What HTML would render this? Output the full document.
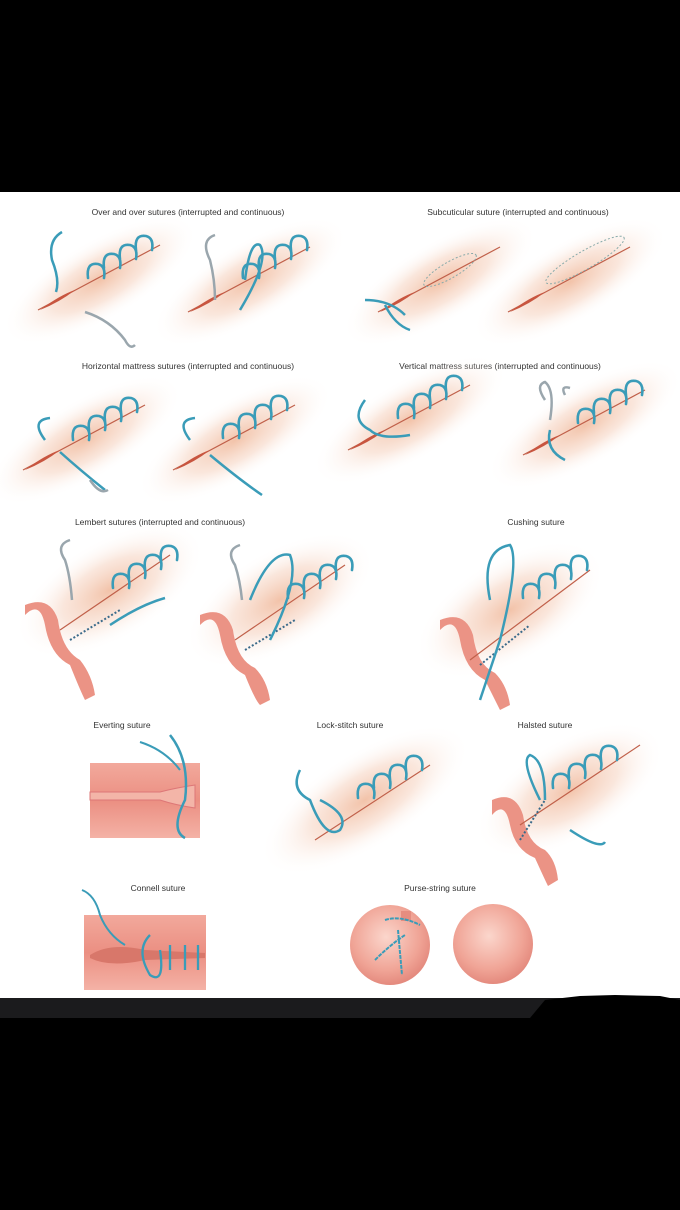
<!DOCTYPE html>
<html><head><meta charset="utf-8"><style>
html,body{margin:0;padding:0;background:#000;}
svg{display:block}
text{font-family:"Liberation Sans",sans-serif;font-size:8.5px;fill:#333;}
</style></head><body>
<svg width="680" height="1210" viewBox="0 0 680 1210" xmlns="http://www.w3.org/2000/svg">
<defs>
<radialGradient id="glow" cx="50%" cy="50%" r="50%">
<stop offset="0" stop-color="#f0b89a" stop-opacity="0.85"/>
<stop offset="0.5" stop-color="#f6d2bf" stop-opacity="0.55"/>
<stop offset="1" stop-color="#ffffff" stop-opacity="0"/>
</radialGradient>
<linearGradient id="tis" x1="0" y1="0" x2="0" y2="1">
<stop offset="0" stop-color="#f2a99c"/><stop offset="0.5" stop-color="#eb8f82"/><stop offset="1" stop-color="#f4b2a6"/>
</linearGradient>
<radialGradient id="ball" cx="45%" cy="40%" r="60%">
<stop offset="0" stop-color="#fbd6cc"/><stop offset="0.7" stop-color="#f0a496"/><stop offset="1" stop-color="#e48a7e"/>
</radialGradient>
<g id="wound">
<ellipse cx="0" cy="0" rx="110" ry="40" fill="url(#glow)" transform="rotate(-30)"/>
<path d="M-62 30 L60 -35" stroke="#c0604a" stroke-width="1.2"/>
<path d="M-60 30 Q-40 15 -25 10 Q-40 22 -60 30Z" fill="#c8553f"/>
</g>
<g id="loops" fill="none" stroke="#3a9cb8" stroke-width="2.6" stroke-linecap="round">
<path d="M-22 8 q-2 -16 10 -14 q8 2 6 14"/>
<path d="M-6 -2 q-2 -16 10 -14 q8 2 6 14"/>
<path d="M10 -11 q-2 -16 10 -14 q8 2 6 14"/>
<path d="M26 -20 q-2 -16 10 -14 q8 2 6 14"/>
</g>
</defs>
<rect x="0" y="0" width="680" height="1210" fill="#000"/>
<rect x="0" y="192" width="680" height="806" fill="#fff"/>
<rect x="0" y="998" width="680" height="20" fill="#1b1b1d"/>
<path d="M530 1018 L545 1000 L580 996 L615 995 L660 996 L680 1000 L680 1018Z" fill="#000"/>

<text x="188" y="215" text-anchor="middle">Over and over sutures (interrupted and continuous)</text>
<text x="518" y="215" text-anchor="middle">Subcuticular suture (interrupted and continuous)</text>
<text x="188" y="369" text-anchor="middle">Horizontal mattress sutures (interrupted and continuous)</text>
<text x="500" y="369" text-anchor="middle">Vertical mattress sutures (interrupted and continuous)</text>
<text x="160" y="525" text-anchor="middle">Lembert sutures (interrupted and continuous)</text>
<text x="536" y="525" text-anchor="middle">Cushing suture</text>
<text x="122" y="728" text-anchor="middle">Everting suture</text>
<text x="350" y="728" text-anchor="middle">Lock-stitch suture</text>
<text x="545" y="728" text-anchor="middle">Halsted suture</text>
<text x="158" y="891" text-anchor="middle">Connell suture</text>
<text x="440" y="891" text-anchor="middle">Purse-string suture</text>

<use href="#wound" x="100" y="280"/><use href="#loops" x="110" y="270"/>
<path d="M62 232 Q48 240 52 260 Q60 280 56 292" fill="none" stroke="#3a9cb8" stroke-width="2.5"/>
<path d="M85 312 Q110 320 125 340 Q130 350 135 345" fill="none" stroke="#9aa6ad" stroke-width="2.5"/>
<use href="#wound" x="250" y="282"/><use href="#loops" x="265" y="270"/>
<path d="M215 235 Q200 240 210 260 Q215 280 215 300" fill="none" stroke="#9aa6ad" stroke-width="2.5"/>
<path d="M240 310 Q270 260 260 245 Q250 240 245 280" fill="none" stroke="#3a9cb8" stroke-width="2.5"/>
<use href="#wound" x="440" y="282"/>
<ellipse cx="450" cy="270" rx="30" ry="8" transform="rotate(-30 450 270)" fill="none" stroke="#8aa" stroke-dasharray="2 2"/>
<path d="M365 300 Q390 300 405 315 M385 305 Q395 325 410 330" fill="none" stroke="#3a9cb8" stroke-width="2.5"/>
<use href="#wound" x="570" y="282"/>
<ellipse cx="585" cy="260" rx="45" ry="9" transform="rotate(-30 585 260)" fill="none" stroke="#8aa" stroke-dasharray="2 2"/>

<use href="#wound" x="85" y="440"/><use href="#loops" x="95" y="432"/>
<path d="M50 418 Q30 420 45 440 M60 452 Q80 470 105 490" fill="none" stroke="#3a9cb8" stroke-width="2.5"/>
<path d="M90 480 Q100 495 108 490" fill="none" stroke="#9aa6ad" stroke-width="2.5"/>
<use href="#wound" x="235" y="440"/><use href="#loops" x="245" y="430"/>
<path d="M195 418 Q175 420 190 440 M210 455 Q240 480 262 495" fill="none" stroke="#3a9cb8" stroke-width="2.5"/>
<use href="#wound" x="410" y="420"/><use href="#loops" x="420" y="410"/>
<path d="M365 400 Q350 420 370 430 Q380 440 410 435" fill="none" stroke="#3a9cb8" stroke-width="2.5"/>
<use href="#wound" x="585" y="425"/><use href="#loops" x="600" y="415"/>
<path d="M545 400 Q535 385 545 382 Q555 390 550 420 M565 395 Q560 385 570 388" fill="none" stroke="#9aa6ad" stroke-width="2.5"/>
<path d="M550 430 Q545 450 565 460" fill="none" stroke="#3a9cb8" stroke-width="2.5"/>

<g>
<ellipse cx="110" cy="590" rx="105" ry="50" fill="url(#glow)" transform="rotate(-30 110 590)"/>
<path d="M25 615 Q40 600 45 625 Q50 655 70 665 Q80 690 85 700 L95 695 Q92 675 80 660 Q62 650 58 620 Q50 595 25 605Z" fill="#eb9385"/>
<path d="M60 630 L170 555" stroke="#c0604a" stroke-width="1.2"/>
<path d="M70 640 L120 610" stroke="#3a6a8a" stroke-width="2" stroke-dasharray="2 2"/>
<use href="#loops" x="135" y="580"/>
<path d="M70 540 Q55 545 65 560 Q70 575 72 600" fill="none" stroke="#9aa6ad" stroke-width="2.5"/>
<path d="M110 625 Q140 605 165 598" fill="none" stroke="#3a9cb8" stroke-width="2.5"/>
</g>
<g>
<ellipse cx="280" cy="600" rx="105" ry="50" fill="url(#glow)" transform="rotate(-30 280 600)"/>
<path d="M200 625 Q215 610 220 635 Q225 665 245 675 Q255 700 260 705 L270 700 Q267 680 255 668 Q237 660 233 630 Q225 605 200 615Z" fill="#eb9385"/>
<path d="M235 640 L345 565" stroke="#c0604a" stroke-width="1.2"/>
<path d="M245 650 L295 620" stroke="#3a6a8a" stroke-width="2" stroke-dasharray="2 2"/>
<use href="#loops" x="310" y="590"/>
<path d="M240 545 Q225 550 235 565 Q240 580 242 600" fill="none" stroke="#9aa6ad" stroke-width="2.5"/>
<path d="M250 600 Q270 550 290 555 Q300 580 270 640" fill="none" stroke="#3a9cb8" stroke-width="2.5"/>
</g>
<g>
<ellipse cx="510" cy="610" rx="105" ry="52" fill="url(#glow)" transform="rotate(-30 510 610)"/>
<path d="M440 630 Q455 615 460 640 Q465 670 485 680 Q495 700 500 710 L510 705 Q507 685 495 673 Q477 665 473 635 Q465 610 440 620Z" fill="#eb9385"/>
<path d="M470 660 L590 570" stroke="#c0604a" stroke-width="1.2"/>
<path d="M480 665 L530 625" stroke="#3a6a8a" stroke-width="2" stroke-dasharray="2 2"/>
<use href="#loops" x="545" y="590"/>
<path d="M490 600 Q480 550 510 545 Q520 560 500 640 Q490 670 480 700" fill="none" stroke="#3a9cb8" stroke-width="2.5"/>
</g>

<rect x="90" y="763" width="110" height="75" fill="url(#tis)"/>
<path d="M90 792 L160 792 Q175 788 195 785 L195 808 Q175 805 160 800 L90 800Z" fill="#f3b5a8" stroke="#d77"/>
<path d="M170 735 Q190 760 185 800 Q170 830 185 838" fill="none" stroke="#3a9cb8" stroke-width="2.5"/>
<path d="M140 742 Q165 750 180 770" fill="none" stroke="#3a9cb8" stroke-width="2"/>
<ellipse cx="365" cy="800" rx="120" ry="48" fill="url(#glow)" transform="rotate(-32 365 800)"/>
<path d="M315 840 L430 765" stroke="#c0604a" stroke-width="1.2"/>
<use href="#loops" x="380" y="790"/>
<path d="M300 770 Q290 790 310 800 Q325 840 340 830 Q350 815 320 800" fill="none" stroke="#3a9cb8" stroke-width="2.5"/>
<ellipse cx="570" cy="790" rx="105" ry="50" fill="url(#glow)" transform="rotate(-30 570 790)"/>
<path d="M492 815 Q505 800 510 825 Q515 850 535 858 Q545 880 548 886 L558 880 Q556 860 545 850 Q527 843 523 815 Q515 790 492 800Z" fill="#eb9385"/>
<path d="M520 825 L640 745" stroke="#c0604a" stroke-width="1.2"/>
<path d="M520 840 L545 800" stroke="#3a6a8a" stroke-width="2" stroke-dasharray="2 2"/>
<use href="#loops" x="575" y="780"/>
<path d="M540 800 Q520 760 530 755 Q545 760 545 800 M570 830 Q600 850 605 842" fill="none" stroke="#3a9cb8" stroke-width="2.5"/>
<rect x="84" y="915" width="122" height="75" fill="url(#tis)"/>
<path d="M90 955 Q110 942 145 950 L205 953 L205 958 L145 960 Q110 968 90 958Z" fill="#d8776a"/>
<path d="M82 890 Q95 895 100 915 Q108 935 125 945" fill="none" stroke="#3a9cb8" stroke-width="2"/>
<path d="M150 935 Q135 950 150 975 Q165 985 160 950 M170 945 L170 970 M185 945 L185 970 M198 945 L198 970" fill="none" stroke="#3a9cb8" stroke-width="2.3"/>
<circle cx="390" cy="945" r="40" fill="url(#ball)"/>
<rect x="401" y="911" width="10" height="10" fill="#e58d80"/>
<path d="M385 920 Q400 915 420 925 M375 960 Q390 945 405 935 M398 930 L402 975" fill="none" stroke="#3a9cb8" stroke-width="2" stroke-dasharray="4 1"/>
<circle cx="493" cy="944" r="40" fill="url(#ball)"/>
</svg>
</body></html>
